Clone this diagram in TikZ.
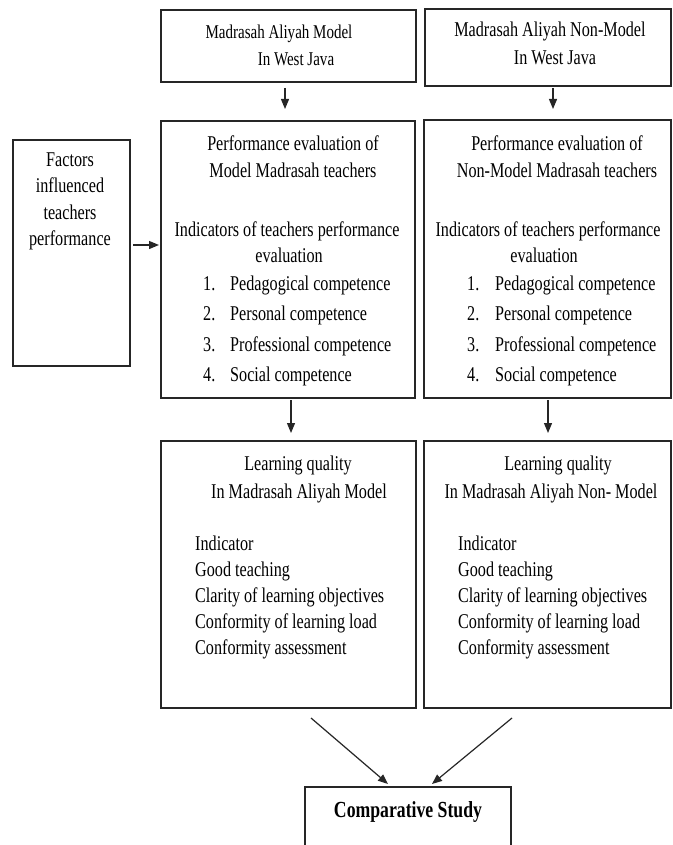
\documentclass[tikz,border=0pt]{standalone}
\usepackage{fontspec}
\setmainfont{Liberation Serif}[FakeStretch=0.77]
\usetikzlibrary{arrows.meta,calc}
\begin{document}
\begin{tikzpicture}[x=1pt,y=-1pt,
  box/.style={draw=black!85, line width=1.5pt, inner sep=0pt, outer sep=0pt},
  txt/.style={anchor=base, inner sep=0pt, font=\fontsize{21}{25}\selectfont},
  stxt/.style={txt, font=\fontsize{19.5}{24}\selectfont},
  ltxt/.style={txt, anchor=base west},
  arr/.style={draw=black!85, line width=1.2pt, -{Triangle[length=10pt,width=8pt]}}]
\useasboundingbox (0,0) rectangle (672,845);

% boxes
\node[box, minimum width=255pt, minimum height=72pt] (top1) at (288.5,46) {};
\node[box, minimum width=246pt, minimum height=77pt] (top2) at (548,47.5) {};
\node[box, minimum width=117pt, minimum height=226pt] (fac) at (71.5,253) {};
\node[box, minimum width=254pt, minimum height=277pt] (perf1) at (288,259.5) {};
\node[box, minimum width=247pt, minimum height=278pt] (perf2) at (547.5,259) {};
\node[box, minimum width=255pt, minimum height=267pt] (learn1) at (288.5,574.5) {};
\node[box, minimum width=247pt, minimum height=267pt] (learn2) at (547.5,574.5) {};
\node[box, minimum width=206pt, minimum height=73pt] (comp) at (408,823.5) {};

% top texts
\node[stxt] (t1a) at (279,39) {Madrasah Aliyah Model};
\node[stxt] (t1b) at (296,66) {In West Java};
\node[txt] (t2a) at (550,37) {Madrasah Aliyah Non-Model};
\node[txt] (t2b) at (555,65) {In West Java};

% factors
\node[txt] (f1) at (70,167) {Factors};
\node[txt] (f2) at (70,193) {influenced};
\node[txt] (f3) at (70,219) {teachers};
\node[txt] (f4) at (70,245) {performance};

% performance 1
\node[txt] (p1a) at (293,151) {Performance evaluation of};
\node[txt] (p1b) at (293,178) {Model Madrasah teachers};
\node[txt] (p1c) at (287,236) {Indicators of teachers performance};
\node[txt] (p1d) at (289,262) {evaluation};
\node[ltxt] (p1n1) at (203,290) {1.};
\node[ltxt] (p1n2) at (203,320.5) {2.};
\node[ltxt] (p1n3) at (203,351) {3.};
\node[ltxt] (p1n4) at (203,381.5) {4.};
\node[ltxt] (p1i1) at (230,290) {Pedagogical competence};
\node[ltxt] (p1i2) at (230,320.5) {Personal competence};
\node[ltxt] (p1i3) at (230,351) {Professional competence};
\node[ltxt] (p1i4) at (230,381.5) {Social competence};

% performance 2
\node[txt] (p2a) at (557,151) {Performance evaluation of};
\node[txt] (p2b) at (557,178) {Non-Model Madrasah teachers};
\node[txt] (p2c) at (548,236) {Indicators of teachers performance};
\node[txt] (p2d) at (544,262) {evaluation};
\node[ltxt] (p2n1) at (467,290) {1.};
\node[ltxt] (p2n2) at (467,320.5) {2.};
\node[ltxt] (p2n3) at (467,351) {3.};
\node[ltxt] (p2n4) at (467,381.5) {4.};
\node[ltxt] (p2i1) at (495,290) {Pedagogical competence};
\node[ltxt] (p2i2) at (495,320.5) {Personal competence};
\node[ltxt] (p2i3) at (495,351) {Professional competence};
\node[ltxt] (p2i4) at (495,381.5) {Social competence};

% learning 1
\node[txt] (l1a) at (298,470) {Learning quality};
\node[txt] (l1b) at (299,498) {In Madrasah Aliyah Model};
\node[ltxt] (l1c) at (195,550) {Indicator};
\node[ltxt] (l1d) at (195,576) {Good teaching};
\node[ltxt] (l1e) at (195,602) {Clarity of learning objectives};
\node[ltxt] (l1f) at (195,628) {Conformity of learning load};
\node[ltxt] (l1g) at (195,654) {Conformity assessment};

% learning 2
\node[txt] (l2a) at (558,470) {Learning quality};
\node[txt] (l2b) at (551,498) {In Madrasah Aliyah Non- Model};
\node[ltxt] (l2c) at (458,550) {Indicator};
\node[ltxt] (l2d) at (458,576) {Good teaching};
\node[ltxt] (l2e) at (458,602) {Clarity of learning objectives};
\node[ltxt] (l2f) at (458,628) {Conformity of learning load};
\node[ltxt] (l2g) at (458,654) {Conformity assessment};

% comparative
\node[txt, font=\fontsize{23}{27}\selectfont\bfseries] (ct) at (408,817) {Comparative Study};

% arrows
\draw[arr] ($(top1.south)+(-3.5,6)$) -- ($(perf1.north)+(-3,-12)$);
\draw[arr] ($(top2.south)+(5,2)$) -- ($(perf2.north)+(5.5,-11)$);
\draw[arr] ($(fac.east)+(3,-8)$) -- ($(perf1.west)+(-2,-14.5)$);
\draw[arr] ($(perf1.south)+(3,2)$) -- ($(learn1.north)+(2.5,-8)$);
\draw[arr] ($(perf2.south)+(0.5,2)$) -- ($(learn2.north)+(0.5,-8)$);
\draw[arr] ($(learn1.south)+(22.5,10)$) -- ($(comp.north)+(-20,-3)$);
\draw[arr] ($(learn2.south)+(-35.5,10)$) -- ($(comp.north)+(24,-3)$);
\end{tikzpicture}
\end{document}
